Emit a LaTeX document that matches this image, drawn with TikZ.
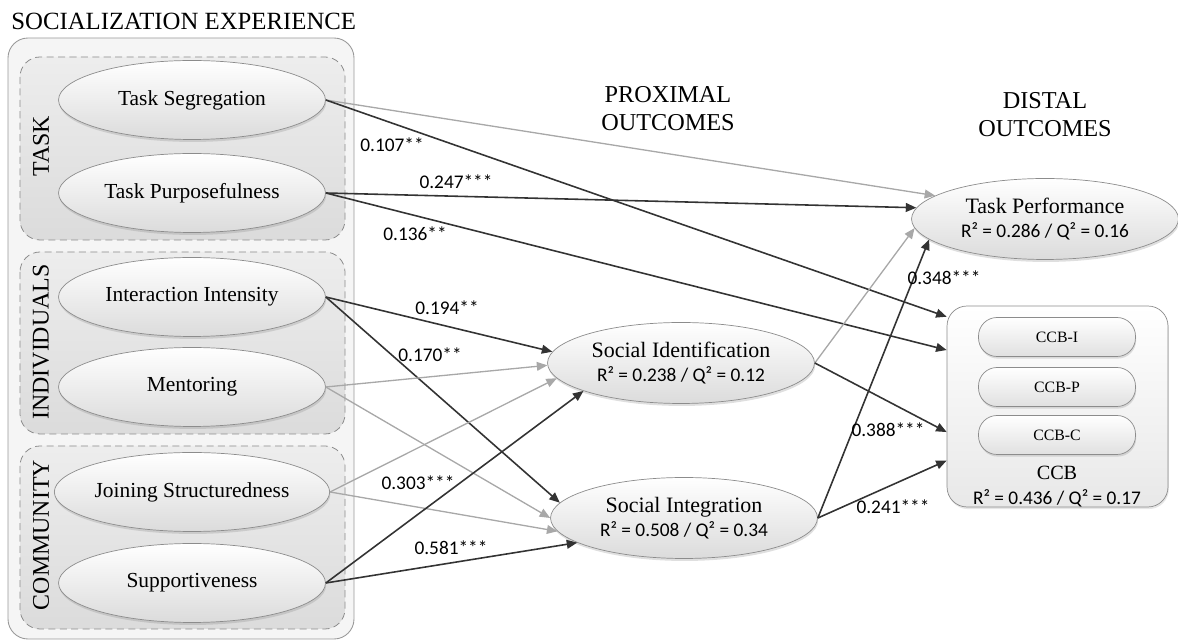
\documentclass[tikz,border=0pt]{standalone}
\usepackage{fontspec}
\setmainfont{Liberation Serif}
\newfontfamily\numfont{Carlito}
\usetikzlibrary{arrows.meta,shapes.geometric,shadows}
\definecolor{darkarr}{HTML}{333333}
\definecolor{lightarr}{HTML}{A8A8A8}
\definecolor{edgegray}{HTML}{8C8C8C}
\tikzset{
  lell/.style={ellipse, draw=edgegray, line width=0.4pt, top color=white, bottom color=black!14,
    minimum width=5.34cm, minimum height=1.58cm, inner sep=0pt,
    font=\fontsize{12.2}{14}\selectfont,
    drop shadow={shadow xshift=0.4pt, shadow yshift=-1.4pt, opacity=0.25}},
  rell/.style={lell, minimum height=1.62cm, align=center, font=\fontsize{12.5}{14}\selectfont},
  pill/.style={rectangle, rounded corners=0.37cm, draw=edgegray, line width=0.4pt, top color=white, bottom color=black!12,
    minimum width=3.14cm, minimum height=0.78cm, inner sep=0pt, font=\fontsize{9}{11}\selectfont,
    drop shadow={shadow xshift=0.4pt, shadow yshift=-1.2pt, opacity=0.25}},
  ccbbox/.style={rectangle, rounded corners=0.4cm, draw=edgegray, line width=0.4pt, top color=white, bottom color=black!9,
    minimum width=4.42cm, minimum height=4.02cm, inner sep=0pt,
    drop shadow={shadow xshift=0.5pt, shadow yshift=-1.2pt, opacity=0.2}},
  grp/.style={draw=edgegray, dashed, dash pattern=on 4pt off 2.5pt, line width=0.45pt, rounded corners=0.4cm, top color=black!7, bottom color=black!14},
  outer/.style={draw=black!40, line width=0.5pt, rounded corners=0.4cm, fill=black!4},
  elab/.style={font=\numfont\fontsize{11}{13}\selectfont, inner sep=0pt},
  head/.style={font=\fontsize{13.8}{16}\selectfont, align=center, inner sep=0pt},
  glab/.style={rotate=90, font=\fontsize{13.6}{16}\selectfont, inner sep=0pt},
  darr/.style={draw=darkarr, line width=0.9pt, -{Triangle[length=6pt,width=5pt]}},
  garr/.style={draw=lightarr, line width=0.75pt, -{Triangle[length=6pt,width=5pt]}}
}
\begin{document}
\begin{tikzpicture}[x=0.02cm, y=-0.02cm]
\useasboundingbox (0,0) rectangle (1178,641);
% title
\node[head, anchor=west, font=\fontsize{14.1}{16}\selectfont] (title) at (11,21) {SOCIALIZATION EXPERIENCE};
% outer and group boxes
\draw[outer] (8,38) rectangle (354,639);
\draw[grp] (20,57) rectangle (345,240);
\draw[grp] (20,252) rectangle (345,434);
\draw[grp] (20,446) rectangle (345,629);
\node[glab] (tasklbl) at (41,146) {TASK};
\node[glab] (indlbl) at (41,342) {INDIVIDUALS};
\node[glab] (comlbl) at (41,535) {COMMUNITY};
% left ellipses
\node[lell] (ts) at (192,100) {Task Segregation};
\node[lell] (tp) at (192,193) {Task Purposefulness};
\node[lell] (ii) at (192,297) {Interaction Intensity};
\node[lell] (me) at (192,387) {Mentoring};
\node[lell] (js) at (192,492) {Joining Structuredness};
\node[lell] (su) at (192,583) {Supportiveness};
% headings
\node[head] (prox) at (668,109) {PROXIMAL\\OUTCOMES};
\node[head] (dist) at (1045,115) {DISTAL\\OUTCOMES};
% outcome ellipses
\node[rell] (tperf) at (1045,219) {Task Performance\\\numfont\fontsize{11}{14}\selectfont R² = 0.286 / Q² = 0.16};
\node[rell] (sid) at (681,363) {Social Identification\\\numfont\fontsize{11}{14}\selectfont R² = 0.238 / Q² = 0.12};
\node[rell] (sint) at (684,518) {Social Integration\\\numfont\fontsize{11}{14}\selectfont R² = 0.508 / Q² = 0.34};
% CCB
\node[ccbbox] (ccb) at (1057.5,406.5) {};
\node[pill] (ccbi) at (1057,337) {CCB-I};
\node[pill] (ccbp) at (1057,387) {CCB-P};
\node[pill] (ccbc) at (1057,435) {CCB-C};
\node[inner sep=0pt, font=\fontsize{11.5}{13}\selectfont] (ccblbl) at (1057,473) {CCB};
\node[elab] (ccbr) at (1057,498) {R² = 0.436 / Q² = 0.17};
% connectors
\draw[garr] (ts.east) -- (tperf.168);
\draw[darr] (ts.east) -- (ccb.141);
\draw[darr] (tp.east) -- (tperf.175);
\draw[darr] (tp.east) -- (ccb.153);
\draw[darr] (ii.east) -- (sid.175);
\draw[darr] (ii.east) -- (sint.173);
\draw[garr] (me.east) -- (sid.181);
\draw[garr] (me.east) -- (sint.180);
\draw[garr] (js.east) -- (sid.187);
\draw[garr] (js.east) -- (sint.186);
\draw[darr] (su.east) -- (sid.196);
\draw[darr] (su.east) -- (sint.193);
\draw[garr] (sid.east) -- (tperf.184);
\draw[darr] (sid.east) -- (ccb.193);
\draw[darr] (sint.east) -- (tperf.190);
\draw[darr] (sint.east) -- (ccb.206);
% edge labels
\node[elab] (l107) at (392,145) {0.107**};
\node[elab] (l247) at (456,182) {0.247***};
\node[elab] (l136) at (415,234) {0.136**};
\node[elab] (l194) at (447,308) {0.194**};
\node[elab] (l170) at (430,355) {0.170**};
\node[elab] (l303) at (418,483) {0.303***};
\node[elab] (l581) at (451,548) {0.581***};
\node[elab] (l348) at (944,278) {0.348***};
\node[elab] (l388) at (888,430) {0.388***};
\node[elab] (l241) at (893,507) {0.241***};
\end{tikzpicture}
\end{document}
